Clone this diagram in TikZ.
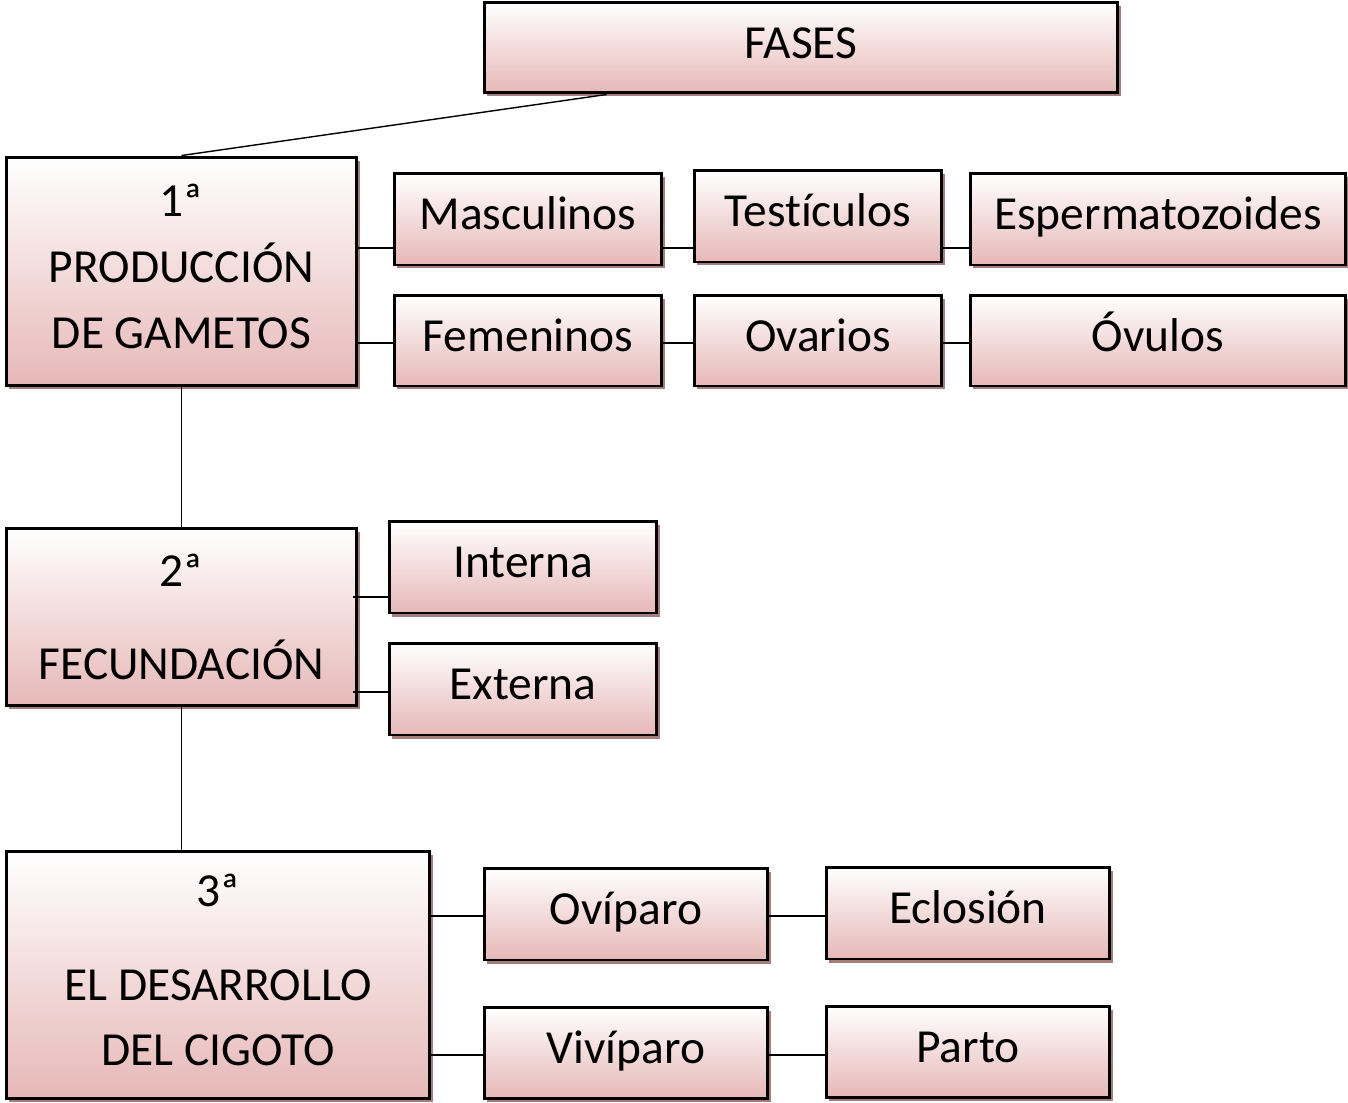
\documentclass[tikz,border=0pt]{standalone}
\usepackage{fontspec}
\setmainfont[Ligatures=NoCommon]{Carlito}
\usepackage{xcolor}
\usepackage{tikz}
\usetikzlibrary{shadows,positioning,calc}

\definecolor{boxpink}{RGB}{230,184,183}
\definecolor{shadowred}{RGB}{165,125,125}
\newcommand{\lift}{\rule[-6pt]{0pt}{6pt}}

\begin{document}
\begin{tikzpicture}[x=0.02cm, y=-0.02cm]
    \tikzstyle{box} = [rectangle, draw=black, line width=1.7pt, top color=white, bottom color=boxpink, align=center, inner sep=0pt, font=\fontsize{27}{37.4}\selectfont, general shadow={fill=shadowred, shadow xshift=0.06cm, shadow yshift=-0.07cm}]
    \tikzstyle{small} = [box, text height=18pt, text depth=6pt]
    \tikzstyle{line} = [draw, line width=0.8pt, black]
    \useasboundingbox (0,0) rectangle (1348,1102);

    % top
    \node [small, minimum width=12.68cm, minimum height=1.82cm] (fases) at (801,47.5) {FASES};

    % 1st phase
    \node [box, minimum width=7.02cm, minimum height=4.58cm] (prod) at (181.5,271.5) {1ª\\PRODUCCIÓN\\DE GAMETOS\lift};
    \node [small, minimum width=5.36cm, minimum height=1.84cm] (masc) at (528,219) {Masculinos};
    \node [small, minimum width=4.96cm, minimum height=1.84cm] (test) at (818,216) {Testículos};
    \node [small, minimum width=7.52cm, minimum height=1.84cm] (esp) at (1158,219) {Espermatozoides};
    \node [small, minimum width=5.36cm, minimum height=1.82cm] (fem) at (528,340.5) {Femeninos};
    \node [small, minimum width=4.96cm, minimum height=1.82cm] (ova) at (818,340.5) {Ovarios};
    \node [small, minimum width=7.52cm, minimum height=1.82cm] (ovu) at (1158,340.5) {Óvulos};

    % 2nd phase
    \node [box, minimum width=7.02cm, minimum height=3.56cm] (fec) at (181.5,617) {2ª\\[16pt]FECUNDACIÓN};
    \node [small, minimum width=5.36cm, minimum height=1.84cm] (inte) at (523,567) {Interna};
    \node [small, minimum width=5.36cm, minimum height=1.84cm] (exte) at (523,689) {Externa};

    % 3rd phase
    \node [box, minimum width=8.48cm, minimum height=4.96cm] (des) at (218,975) {3ª\\[16pt]EL DESARROLLO\\DEL CIGOTO\lift};
    \node [small, minimum width=5.68cm, minimum height=1.84cm] (ovip) at (626,914) {Ovíparo};
    \node [small, minimum width=5.68cm, minimum height=1.84cm] (ecl) at (968,913) {Eclosión};
    \node [small, minimum width=5.68cm, minimum height=1.82cm] (viv) at (626,1052.5) {Vivíparo};
    \node [small, minimum width=5.68cm, minimum height=1.82cm] (par) at (968,1051.5) {Parto};

    \coordinate (m1) at ([yshift=-0.58cm]masc.west);
    \coordinate (f1) at ([yshift=-0.05cm]fem.west);
    \coordinate (i1) at ([yshift=-0.6cm]inte.west);
    \coordinate (e1) at ([yshift=-0.06cm]exte.west);
    \coordinate (o1) at ([yshift=-0.04cm]ovip.west);
    \coordinate (v1) at ([yshift=-0.05cm]viv.west);

    \draw [line] ([xshift=2.48cm]fases.south west) -- (prod.north);
    \draw [line] (prod.east |- m1) -- (m1);
    \draw [line] (masc.east |- m1) -- (test.west |- m1);
    \draw [line] (test.east |- m1) -- (esp.west |- m1);
    \draw [line] (prod.east |- f1) -- (f1);
    \draw [line] (fem.east |- f1) -- (ova.west |- f1);
    \draw [line] (ova.east |- f1) -- (ovu.west |- f1);
    \draw [line] (prod.south) -- (fec.north);
    \draw [line] ([xshift=-0.1cm]fec.east |- i1) -- (i1);
    \draw [line] ([xshift=-0.1cm]fec.east |- e1) -- (e1);
    \draw [line] (fec.south) -- (fec.south |- des.north);
    \draw [line] (des.east |- o1) -- (o1);
    \draw [line] (ovip.east |- o1) -- (ecl.west |- o1);
    \draw [line] (des.east |- v1) -- (v1);
    \draw [line] (viv.east |- v1) -- (par.west |- v1);
\end{tikzpicture}
\end{document}
